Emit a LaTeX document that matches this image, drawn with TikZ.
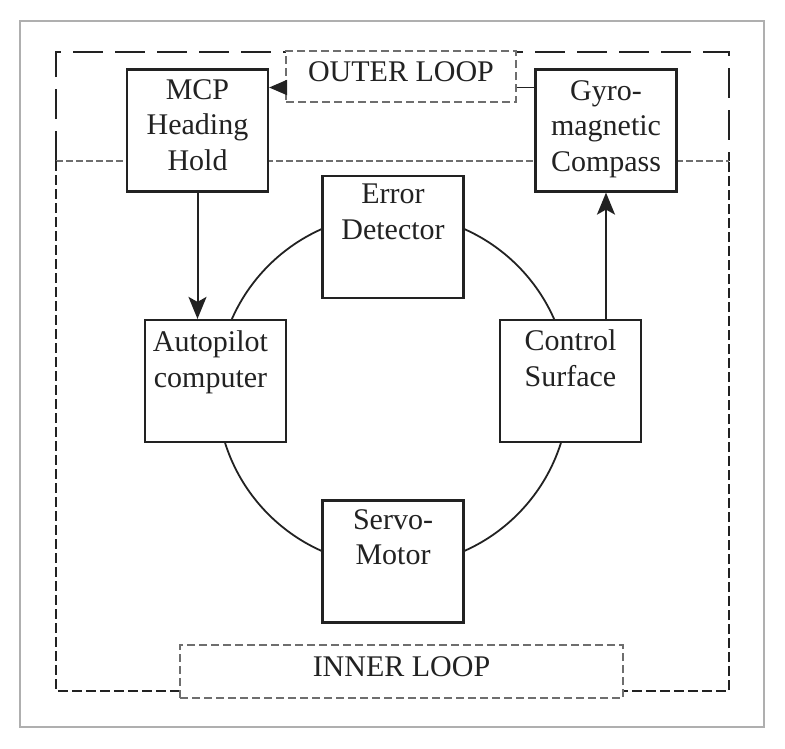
\documentclass[tikz,border=0pt]{standalone}
\usepackage{fontspec}
\setmainfont{Liberation Serif}
\usetikzlibrary{arrows.meta,positioning}
\definecolor{linecolor}{RGB}{34,34,34}
\definecolor{loopgray}{RGB}{110,110,110}
\definecolor{framegray}{RGB}{175,175,175}

\begin{document}
\begin{tikzpicture}[
    x=1pt, y=-1pt,
    block/.style={rectangle, draw=linecolor, line width=2.2pt, fill=white, minimum width=141pt, minimum height=122pt, inner sep=0pt},
    blocktext/.style={anchor=north, align=center, inner sep=0pt, font=\fontsize{30}{35.5}\selectfont, text=linecolor},
    looplabel/.style={rectangle, draw=loopgray, dash pattern=on 8pt off 4pt, line width=1.4pt, fill=white, inner sep=0pt, text depth=10pt, font=\fontsize{30}{35.5}\selectfont, text=linecolor},
    arrow/.style={-{Stealth[length=22pt,width=18pt,inset=5pt]}, line width=2pt, draw=linecolor}
]
\useasboundingbox (0,0) rectangle (785,748);
\draw[framegray, line width=1.5pt] (20,21) rectangle (764,727);

% loop regions
\draw[linecolor, line width=1.4pt, dash pattern=on 30pt off 12pt] (56,161) -- (56,52) -- (729,52) -- (729,161);
\draw[loopgray, line width=1.3pt, dash pattern=on 7pt off 3pt] (56,161) -- (729,161);
\draw[linecolor, line width=1.4pt, dash pattern=on 10pt off 4pt] (56,161) -- (56,691) -- (729,691) -- (729,161);

% inner loop circle
\coordinate (loopcenter) at (393,390);
\draw[linecolor, line width=1.8pt] (loopcenter) circle[radius=176];

\node[block] (mcp) at (197.5,130.5) {};
\node[block] (gyro) at (606,130.5) {};
\node[block] (err) at (393,237) {};
\node[block] (auto) at (215.5,381) {};
\node[block] (ctrl) at (570.5,381) {};
\node[block] (servo) at (393,561.5) {};

\node[blocktext, below=11pt of mcp.north] (mcptext) {MCP\\Heading\\Hold};
\node[blocktext, below=12pt of gyro.north] (gyrotext) {Gyro-\\magnetic\\Compass};
\node[blocktext, below=9pt of err.north] (errtext) {Error\\Detector};
\node[blocktext, below=12pt of auto.north, xshift=-5pt] (autotext) {Autopilot\\computer};
\node[blocktext, below=11pt of ctrl.north] (ctrltext) {Control\\Surface};
\node[blocktext, below=10pt of servo.north] (servotext) {Servo-\\Motor};

\node[looplabel, minimum width=230pt, minimum height=51pt] (outer) at (401,76.5) {OUTER LOOP};
\node[looplabel, minimum width=443pt, minimum height=53pt] (inner) at (401.5,671.5) {INNER LOOP};

\draw[arrow] (mcp.south) -- (mcp.south |- auto.north);
\draw[arrow] (ctrl.north -| gyro.south) -- (gyro.south);
\draw[linecolor, line width=1.8pt] ([yshift=-11pt]outer.east) -- ([yshift=-11pt]outer.east -| gyro.west);
\draw[linecolor, line width=1.8pt, -{Triangle[length=18pt,width=15pt]}] ([yshift=-11pt]outer.west) -- ([yshift=-11pt]outer.west -| mcp.east);
\end{tikzpicture}
\end{document}
